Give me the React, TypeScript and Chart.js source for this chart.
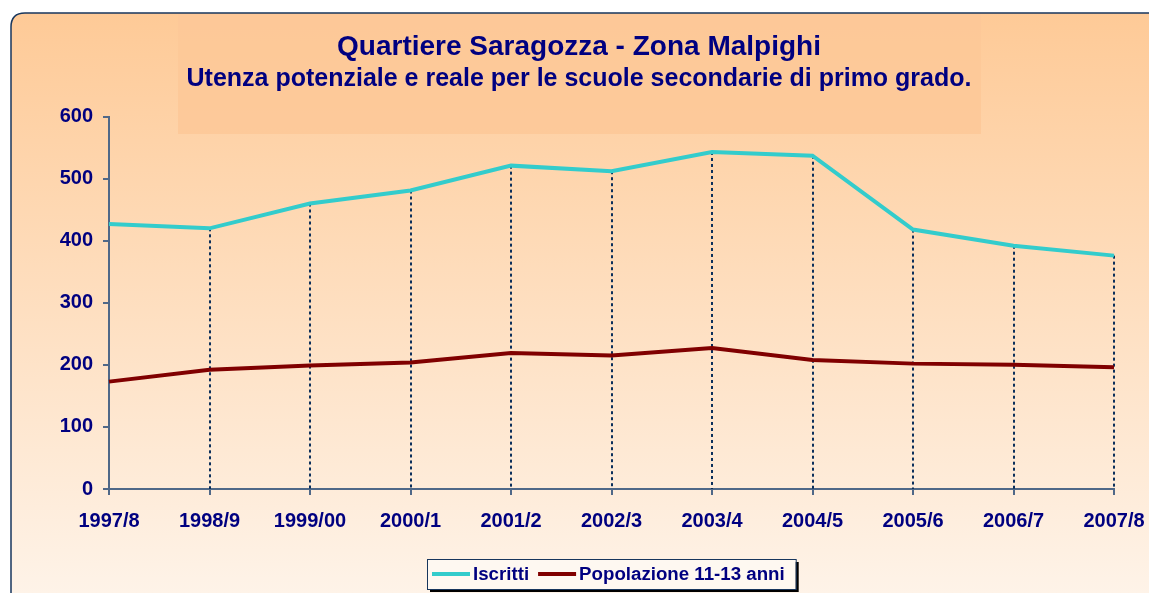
import React, { useEffect, useRef } from "react";
import { Chart, registerables } from "chart.js";

Chart.register(...registerables);

const categories = ["1997/8", "1998/9", "1999/00", "2000/1", "2001/2", "2002/3", "2003/4", "2004/5", "2005/6", "2006/7", "2007/8"];
const iscritti = [427, 420, 460, 481, 521, 512, 543, 537, 418, 392, 376];
const popolazione = [173, 192, 199, 204, 219, 215, 227, 208, 202, 200, 196];
const seriesNames = ["Iscritti", "Popolazione 11-13 anni"];
const seriesColors = ["#33CCCC", "#800000"];
const titleText = "Quartiere Saragozza - Zona Malpighi";
const subtitleText = "Utenza potenziale e reale per le scuole secondarie di primo grado.";
const yMin = 0;
const yMax = 600;
const yStep = 100;

const NAVY = "#000080";
const AXIS = "#4F6888";
const FONT = "'Liberation Sans', Arial, sans-serif";

const backgroundPlugin = {
  id: "bgFrame",
  beforeDraw(chart: any) {
    const ctx = chart.ctx;
    const W = chart.width;
    const H = chart.height;
    ctx.save();
    const x0 = 11, y0 = 13, r = 14;
    const x1 = W + 20, y1 = H + 20;
    ctx.beginPath();
    ctx.moveTo(x0 + r, y0);
    ctx.lineTo(x1, y0);
    ctx.lineTo(x1, y1);
    ctx.lineTo(x0, y1);
    ctx.lineTo(x0, y0 + r);
    ctx.quadraticCurveTo(x0, y0, x0 + r, y0);
    ctx.closePath();
    const g = ctx.createLinearGradient(0, y0, 0, H);
    g.addColorStop(0, "#FECA97");
    g.addColorStop(1, "#FEF3E8");
    ctx.fillStyle = g;
    ctx.fill();
    ctx.lineWidth = 1.5;
    ctx.strokeStyle = "#17365D";
    ctx.stroke();
    // title panel
    ctx.fillStyle = "rgba(253,200,152,0.85)";
    ctx.fillRect(178, 14, 803, 120);
    ctx.restore();
  },
};

const dropLinesPlugin = {
  id: "dropLines",
  beforeDatasetsDraw(chart: any) {
    const meta = chart.getDatasetMeta(0);
    const bottom = chart.chartArea.bottom;
    const ctx = chart.ctx;
    ctx.save();
    ctx.strokeStyle = "#0B2F5B";
    ctx.lineWidth = 2;
    ctx.setLineDash([3, 3]);
    meta.data.forEach((pt: any, i: number) => {
      if (i === 0) return;
      ctx.beginPath();
      ctx.moveTo(Math.round(pt.x), pt.y);
      ctx.lineTo(Math.round(pt.x), bottom);
      ctx.stroke();
    });
    ctx.restore();
  },
};

const legendPlugin = {
  id: "boxLegend",
  afterDraw(chart: any) {
    const ctx = chart.ctx;
    const ca = chart.chartArea;
    ctx.save();
    ctx.font = `bold 18.7px ${FONT}`;
    const sw = 38, gapSwText = 3, gapItems = 9, padL = 5, padR = 11;
    const items = chart.data.datasets.map((d: any) => ({ label: d.label, color: d.borderColor, w: ctx.measureText(d.label).width }));
    let total = padL + padR;
    items.forEach((it: any, i: number) => {
      total += sw + gapSwText + it.w + (i > 0 ? gapItems : 0);
    });
    const cx = (ca.left + ca.right) / 2;
    const bx = Math.round(cx - total / 2);
    const by = 559, bh = 30;
    ctx.fillStyle = "#000000";
    ctx.fillRect(bx + 3, by + 3, total, bh);
    ctx.fillStyle = "#FEF8F1";
    ctx.fillRect(bx, by, total, bh);
    ctx.strokeStyle = "#17365D";
    ctx.lineWidth = 1;
    ctx.strokeRect(bx + 0.5, by + 0.5, total, bh);
    let x = bx + padL;
    const cy = by + bh / 2;
    items.forEach((it: any, i: number) => {
      if (i > 0) x += gapItems;
      ctx.strokeStyle = it.color;
      ctx.lineWidth = 4;
      ctx.beginPath();
      ctx.moveTo(x, cy);
      ctx.lineTo(x + sw, cy);
      ctx.stroke();
      x += sw + gapSwText;
      ctx.fillStyle = NAVY;
      ctx.textBaseline = "middle";
      ctx.textAlign = "left";
      ctx.fillText(it.label, x, cy + 1);
      x += it.w;
    });
    ctx.restore();
  },
};

export default function App() {
  const ref = useRef<HTMLCanvasElement | null>(null);
  useEffect(() => {
    if (!ref.current) return;
    const chart = new Chart(ref.current, {
      type: "line",
      data: {
        labels: categories,
        datasets: [
          { label: seriesNames[0], data: iscritti, borderColor: seriesColors[0], backgroundColor: seriesColors[0], borderWidth: 4, pointRadius: 0, tension: 0 },
          { label: seriesNames[1], data: popolazione, borderColor: seriesColors[1], backgroundColor: seriesColors[1], borderWidth: 4, pointRadius: 0, tension: 0 },
        ],
      },
      options: {
        responsive: false,
        animation: false,
        devicePixelRatio: 1,
        layout: { padding: { left: 44, right: 35, top: 0, bottom: 46 } },
        plugins: {
          legend: { display: false },
          tooltip: { enabled: false },
          title: { display: true, text: titleText, color: NAVY, font: { family: FONT, size: 28, weight: "bold" }, padding: { top: 30, bottom: 0 } },
          subtitle: { display: true, text: subtitleText, color: NAVY, font: { family: FONT, size: 25, weight: "bold" }, padding: { top: 1, bottom: 22 } },
        },
        scales: {
          x: {
            type: "category",
            offset: false,
            afterFit: (s: any) => { s.paddingLeft = 0; s.paddingRight = 0; },
            grid: { drawOnChartArea: false, drawTicks: true, tickLength: 6, color: AXIS, lineWidth: 2 },
            border: { display: true, color: AXIS, width: 2 },
            ticks: { color: NAVY, font: { family: FONT, size: 20, weight: "bold" }, padding: 14, maxRotation: 0, autoSkip: false },
          },
          y: {
            min: yMin,
            max: yMax,
            afterFit: (s: any) => { s.width = 65; s.paddingTop = 0; s.paddingBottom = 0; },
            grid: { drawOnChartArea: false, drawTicks: true, tickLength: 6, color: AXIS, lineWidth: 2 },
            border: { display: true, color: AXIS, width: 2 },
            ticks: { stepSize: yStep, color: NAVY, font: { family: FONT, size: 20, weight: "bold" }, padding: 10 },
          },
        },
      },
      plugins: [backgroundPlugin, dropLinesPlugin, legendPlugin],
    } as any);
    return () => chart.destroy();
  }, []);
  return (
    <div style={{ position: "fixed", left: 0, top: 0, width: 1149, height: 593, background: "#fff" }}>
      <canvas ref={ref} width={1149} height={593} style={{ display: "block" }} />
    </div>
  );
}
